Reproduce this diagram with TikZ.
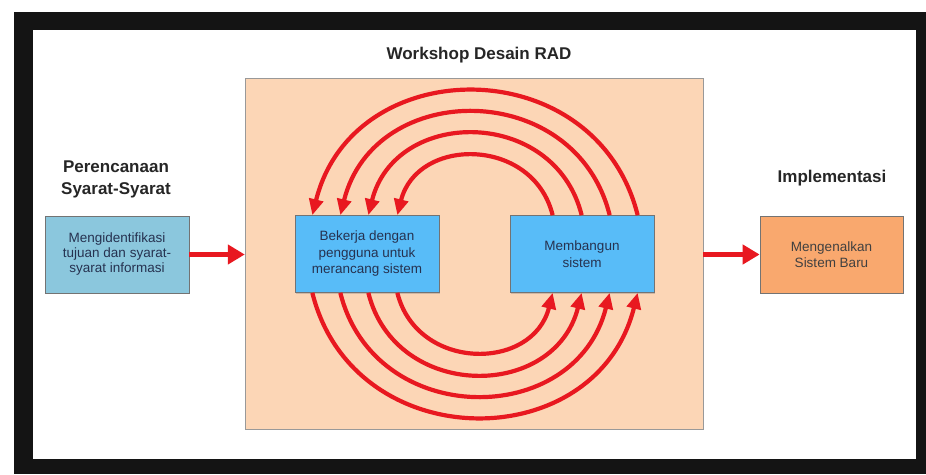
\documentclass[tikz,border=0pt]{standalone}
\usepackage{fontspec}
\setmainfont{Liberation Sans}
\usetikzlibrary{arrows.meta}
\usetikzlibrary{positioning}
\usetikzlibrary{calc}
\usetikzlibrary{shadows}
\tikzset{
  box/.style={draw=black!55,line width=0.7pt,inner sep=0pt,minimum width=144pt,minimum height=77pt,
    align=center,font=\fontsize{13.5}{16.5}\selectfont,text=boxtext,
    drop shadow={shadow xshift=1.2pt,shadow yshift=-1.2pt,opacity=0.35}},
  head/.style={font=\fontsize{17}{22}\selectfont\bfseries,align=center,text=black!85},
  flow/.style={draw=arrowred,line width=4.5pt,-{Triangle[length=17pt,width=19pt]}},
  arcline/.style={draw=arrowred,line width=4.2pt,-{Triangle[length=16pt,width=14pt]}},
}

\begin{document}
\begin{tikzpicture}[x=1pt,y=1pt]
  \definecolor{frame}{RGB}{20,20,20}
  \definecolor{peach}{RGB}{252,214,182}
  \definecolor{planblue}{RGB}{139,199,221}
  \definecolor{skyblue}{RGB}{88,188,248}
  \definecolor{orange}{RGB}{249,168,110}
  \definecolor{arrowred}{RGB}{232,24,32}
  \definecolor{boxtext}{RGB}{38,50,80}
  \useasboundingbox (0,0) rectangle (926,474);
  \fill[frame] (14,0) rectangle (926,462);
  \fill[white] (33,15) rectangle (916,444);
  \node[draw=black!40,fill=peach,inner sep=0pt,minimum width=458pt,minimum height=351pt] (rad) at (474,220.5) {};
  \node[head,anchor=base] (title) at (479,414) {Workshop Desain RAD};
  \node[head] (planhead) at (116,295) {Perencanaan\\Syarat-Syarat};
  \node[head,anchor=base] (introhead) at (832,291) {Implementasi};
  \node[box,fill=planblue,font=\fontsize{13.5}{15}\selectfont] (plan) at (117,219.5) {Mengidentifikasi\\tujuan dan syarat-\\syarat informasi};
  \node[box,fill=skyblue] (work) at (367,220) {Bekerja dengan\\pengguna untuk\\merancang sistem};
  \node[box,fill=skyblue] (build) at (582,220) {Membangun\\sistem};
  \node[box,fill=orange,minimum width=143pt,text=black!75] (intro) at (831.5,219.5) {Mengenalkan\\Sistem Baru};
  \draw[flow] (plan.east) -- (plan.east -| rad.west);
  \draw[flow] (rad.east |- intro.west) -- (intro.west);
  \foreach \a/\b in {43/42,72/71,100/99,128/127} {
    \draw[arcline] ($(build.north west)+(\a,0)$) to[out=104,in=76,looseness=1.34] ($(work.north east)+(-\b,0)$);
    \draw[arcline] ($(work.south east)+(-\b,0)$) to[out=-76,in=-104,looseness=1.34] ($(build.south west)+(\a,0)$);
  }
\end{tikzpicture}
\end{document}
